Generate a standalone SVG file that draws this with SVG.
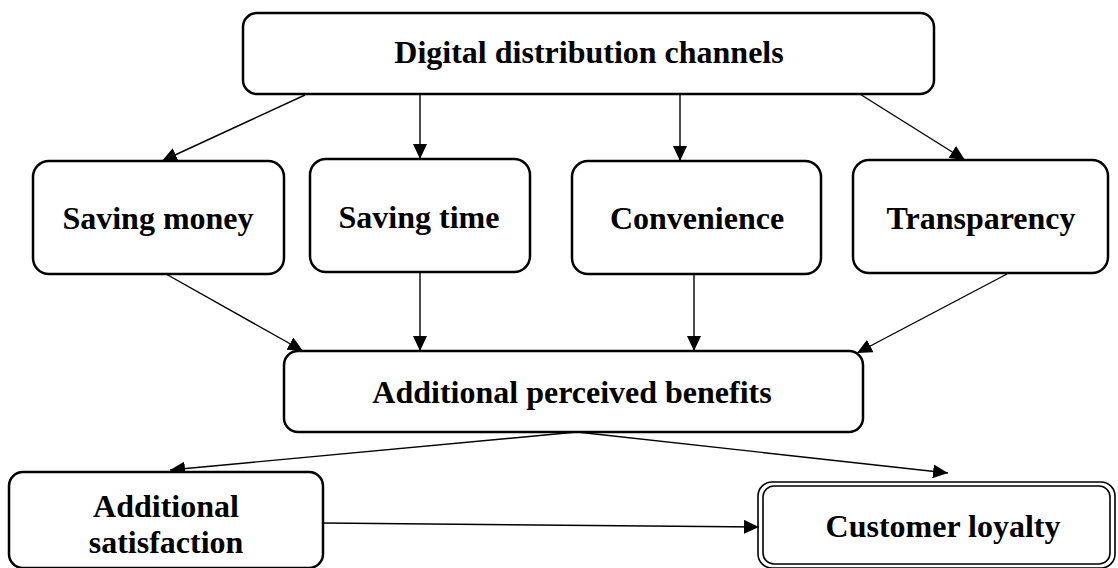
<svg xmlns="http://www.w3.org/2000/svg" width="1118" height="568" viewBox="0 0 1118 568">
  <defs>
    <marker id="arr" markerUnits="userSpaceOnUse" markerWidth="16" markerHeight="14" refX="15" refY="7" orient="auto">
      <path d="M0,0 L15,7 L0,14 z" fill="#000"/>
    </marker>
    <style>
      .box { fill: #fff; stroke: #000; stroke-width: 2.5; }
      .thin { fill: none; stroke: #000; stroke-width: 1.6; }
      .lbl { font-family: "Liberation Serif", "Times New Roman", serif; font-weight: bold; font-size: 32px; fill: #000; text-anchor: middle; }
      .conn { stroke: #000; stroke-width: 1.4; fill: none; marker-end: url(#arr); }
    </style>
  </defs>
  <rect width="1118" height="568" fill="#fff"/>

  <g id="connectors">
    <line class="conn" x1="305" y1="95" x2="162" y2="161"/>
    <line class="conn" x1="420" y1="94" x2="420" y2="159"/>
    <line class="conn" x1="680" y1="94" x2="680" y2="161"/>
    <line class="conn" x1="855" y1="91" x2="965" y2="160"/>
    <line class="conn" x1="166" y1="274" x2="303" y2="351"/>
    <line class="conn" x1="420" y1="272" x2="420" y2="351"/>
    <line class="conn" x1="694" y1="274" x2="694" y2="351"/>
    <line class="conn" x1="1007" y1="274" x2="857" y2="353"/>
    <line class="conn" x1="577" y1="432" x2="170" y2="470"/>
    <line class="conn" x1="577" y1="432" x2="948" y2="473"/>
    <line class="conn" x1="323" y1="523" x2="759" y2="527"/>
  </g>

  <g id="digital-distribution-channels">
    <rect class="box" x="243" y="13" width="691" height="81" rx="14"/>
    <text class="lbl" x="589" y="63">Digital distribution channels</text>
  </g>
  <g id="saving-money">
    <rect class="box" x="33" y="161" width="251" height="113" rx="16"/>
    <text class="lbl" x="158" y="229">Saving money</text>
  </g>
  <g id="saving-time">
    <rect class="box" x="310" y="159" width="220" height="113" rx="16"/>
    <text class="lbl" x="419" y="228">Saving time</text>
  </g>
  <g id="convenience">
    <rect class="box" x="572" y="161" width="249" height="113" rx="16"/>
    <text class="lbl" x="697" y="229">Convenience</text>
  </g>
  <g id="transparency">
    <rect class="box" x="853" y="160" width="255" height="113" rx="16"/>
    <text class="lbl" x="981" y="229">Transparency</text>
  </g>
  <g id="additional-perceived-benefits">
    <rect class="box" x="284" y="351" width="579" height="81" rx="14"/>
    <text class="lbl" x="572" y="403">Additional perceived benefits</text>
  </g>
  <g id="additional-satisfaction">
    <rect class="box" x="9" y="472" width="314" height="96" rx="14"/>
    <text class="lbl" x="166" y="517">Additional</text>
    <text class="lbl" x="166" y="553">satisfaction</text>
  </g>
  <g id="customer-loyalty">
    <rect class="thin" x="758" y="482" width="357" height="86" rx="14"/>
    <rect class="thin" x="763" y="486" width="347" height="78" rx="11"/>
    <text class="lbl" x="943" y="537">Customer loyalty</text>
  </g>
</svg>
